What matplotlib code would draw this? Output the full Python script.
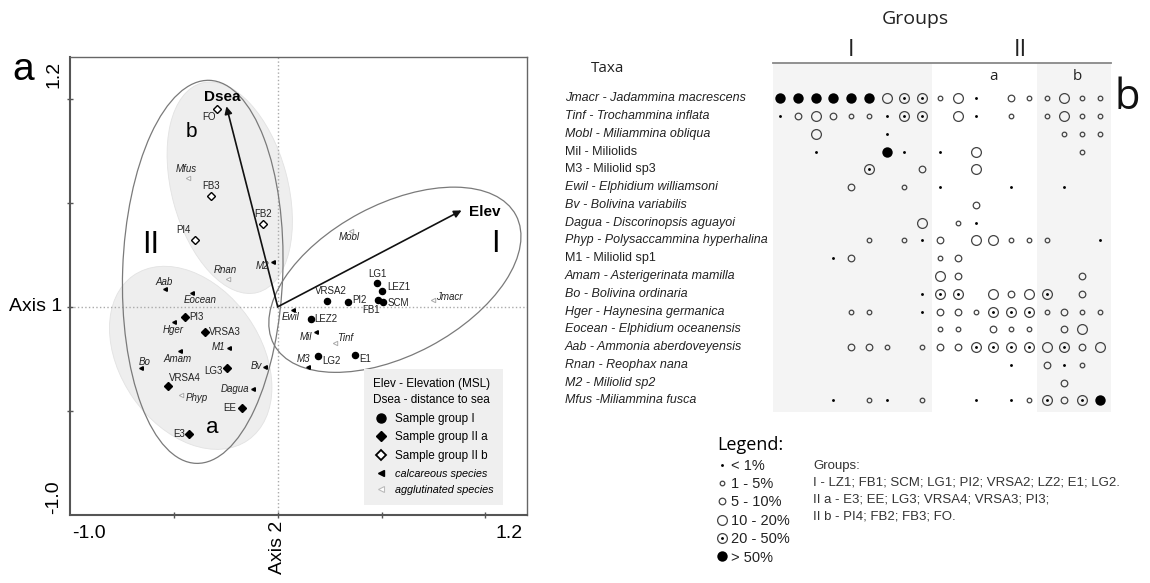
import numpy as np
import matplotlib.pyplot as plt
import matplotlib.transforms as mtransforms
from matplotlib.patches import Ellipse
from matplotlib.lines import Line2D
from matplotlib.legend_handler import HandlerTuple

plt.rcParams['font.family'] = ['Liberation Sans', 'DejaVu Sans']

W, H = 1150, 583

# ---------------- panel a: ordination scores ----------------
sample_names = ['LG1', 'LEZ1', 'VRSA2', 'PI2', 'FB1', 'SCM', 'LEZ2', 'LG2', 'E1',
                'PI3', 'VRSA3', 'LG3', 'VRSA4', 'EE', 'E3',
                'FO', 'FB3', 'FB2', 'PI4']
sample_x = [0.476, 0.503, 0.235, 0.339, 0.483, 0.507, 0.158, 0.194, 0.371,
            -0.448, -0.352, -0.242, -0.529, -0.170, -0.427,
            -0.291, -0.321, -0.071, -0.400]
sample_y = [0.114, 0.078, 0.030, 0.021, 0.034, 0.025, -0.059, -0.234, -0.231,
            -0.050, -0.122, -0.295, -0.380, -0.487, -0.612,
            0.952, 0.530, 0.399, 0.319]
sample_group = ['I'] * 9 + ['IIa'] * 6 + ['IIb'] * 4

species_names = ['Mfus', 'Rnan', 'M2', 'Aab', 'Eocean', 'Hger', 'M1', 'Amam', 'Bo',
                 'Bv', 'Phyp', 'Dagua', 'Mobl', 'Jmacr', 'Ewil', 'Mil', 'Tinf', 'M3']
species_x = [-0.432, -0.240, -0.023, -0.545, -0.411, -0.501, -0.235, -0.472, -0.657,
             -0.063, -0.464, -0.119, 0.355, 0.748, 0.074, 0.183, 0.275, 0.146]
species_y = [0.619, 0.133, 0.213, 0.085, 0.066, -0.072, -0.199, -0.213, -0.293,
             -0.290, -0.423, -0.396, 0.362, 0.034, -0.014, -0.119, -0.172, -0.287]
species_type = ['aggl', 'aggl', 'calc', 'calc', 'calc', 'calc', 'calc', 'calc', 'calc',
                'calc', 'aggl', 'calc', 'aggl', 'aggl', 'calc', 'calc', 'aggl', 'calc']

env_names = ['Dsea', 'Elev']
env_x = [-0.247, 0.885]
env_y = [0.963, 0.463]

# ---------------- panel b: abundance classes ----------------
taxa_labels = ['Jmacr - Jadammina macrescens', 'Tinf - Trochammina inflata',
               'Mobl - Miliammina obliqua', 'Mil - Miliolids', 'M3 - Miliolid sp3',
               'Ewil - Elphidium williamsoni', 'Bv - Bolivina variabilis',
               'Dagua - Discorinopsis aguayoi', 'Phyp - Polysaccammina hyperhalina',
               'M1 - Miliolid sp1', 'Amam - Asterigerinata mamilla',
               'Bo - Bolivina ordinaria', 'Hger - Haynesina germanica',
               'Eocean - Elphidium oceanensis', 'Aab - Ammonia aberdoveyensis',
               'Rnan - Reophax nana', 'M2 - Miliolid sp2', 'Mfus -Miliammina fusca']
taxa_italic = [True, True, True, False, False, True, True, True, True,
               False, True, True, True, True, True, True, True, True]

# 0 absent, 1 <1%, 2 1-5%, 3 5-10%, 4 10-20%, 5 20-50%, 6 >50%
abund_class = [
    [6, 6, 6, 6, 6, 6, 4, 5, 5, 2, 4, 1, 0, 3, 2, 2, 4, 2, 2],
    [1, 3, 4, 3, 2, 2, 1, 5, 5, 0, 4, 1, 0, 2, 0, 2, 4, 2, 2],
    [0, 0, 4, 0, 0, 0, 1, 0, 0, 0, 0, 0, 0, 0, 0, 0, 2, 2, 2],
    [0, 0, 1, 0, 0, 0, 6, 1, 0, 1, 0, 4, 0, 0, 0, 0, 0, 2, 0],
    [0, 0, 0, 0, 0, 5, 0, 0, 3, 0, 0, 4, 0, 0, 0, 0, 0, 0, 0],
    [0, 0, 0, 0, 3, 0, 0, 2, 0, 1, 0, 0, 0, 1, 0, 0, 1, 0, 0],
    [0, 0, 0, 0, 0, 0, 0, 0, 0, 0, 0, 3, 0, 0, 0, 0, 0, 0, 0],
    [0, 0, 0, 0, 0, 0, 0, 0, 4, 0, 2, 1, 0, 0, 0, 0, 0, 0, 0],
    [0, 0, 0, 0, 0, 2, 0, 2, 1, 3, 0, 4, 4, 2, 2, 2, 0, 0, 1],
    [0, 0, 0, 1, 3, 0, 0, 0, 0, 2, 3, 0, 0, 0, 0, 0, 0, 0, 0],
    [0, 0, 0, 0, 0, 0, 0, 0, 0, 4, 3, 0, 0, 0, 0, 0, 0, 3, 0],
    [0, 0, 0, 0, 0, 0, 0, 0, 1, 5, 5, 0, 4, 3, 4, 5, 0, 3, 0],
    [0, 0, 0, 0, 2, 2, 0, 0, 1, 3, 3, 2, 5, 5, 5, 2, 3, 2, 2],
    [0, 0, 0, 0, 0, 0, 0, 0, 0, 2, 2, 0, 3, 2, 2, 0, 3, 4, 0],
    [0, 0, 0, 0, 3, 3, 2, 0, 2, 3, 3, 5, 5, 5, 5, 4, 5, 3, 4],
    [0, 0, 0, 0, 0, 0, 0, 0, 0, 0, 0, 0, 0, 1, 0, 3, 1, 2, 0],
    [0, 0, 0, 0, 0, 0, 0, 0, 0, 0, 0, 0, 0, 0, 0, 0, 3, 0, 0],
    [0, 0, 0, 1, 0, 2, 1, 0, 2, 0, 0, 1, 0, 1, 2, 5, 3, 5, 6],
]
n_I, n_IIa, n_IIb = 9, 6, 4
class_labels = ['< 1%', '1 - 5%', '5 - 10%', '10 - 20%', '20 - 50%', '> 50%']
group_lines = ['Groups:',
               'I - LZ1; FB1; SCM; LG1; PI2; VRSA2; LZ2; E1; LG2.',
               'II a - E3; EE; LG3; VRSA4; VRSA3; PI3;',
               'II b - PI4; FB2; FB3; FO.']

# label placement for panel a (dx px, dy px downward, ha)
label_offsets = {
    'LG1': (1, -9, 'center'), 'LEZ1': (5, -4, 'left'), 'VRSA2': (4, -10, 'center'),
    'PI2': (4, -2, 'left'), 'FB1': (-7, 10, 'center'), 'SCM': (5, 1, 'left'),
    'LEZ2': (4, 0, 'left'), 'LG2': (4, 5, 'left'), 'E1': (4, 4, 'left'),
    'PI3': (5, 0, 'left'), 'VRSA3': (4, 0, 'left'), 'LG3': (-5, 3, 'right'),
    'VRSA4': (1, -8, 'left'), 'EE': (-6, 0, 'right'), 'E3': (-4, 0, 'right'),
    'FO': (-2, 8, 'right'), 'FB3': (0, -10, 'center'), 'FB2': (0, -10, 'center'),
    'PI4': (-11, -10, 'center'),
    'Mfus': (-2, -9, 'center'), 'Rnan': (-3, -9, 'center'), 'M2': (-4, 4, 'right'),
    'Aab': (0, -7, 'center'), 'Eocean': (8, 7, 'center'), 'Hger': (0, 8, 'center'),
    'M1': (-4, -1, 'right'), 'Amam': (-2, 8, 'center'), 'Bo': (3, -6, 'center'),
    'Bv': (-3, -1, 'right'), 'Phyp': (4, 3, 'left'), 'Dagua': (-4, 0, 'right'),
    'Mobl': (-2, 6, 'center'), 'Jmacr': (3, -3, 'left'), 'Ewil': (-3, 7, 'center'),
    'Mil': (-4, 5, 'right'), 'Tinf': (2, -5, 'left'), 'M3': (-5, -8, 'center'),
}
NARROW = ['Liberation Sans Narrow', 'Liberation Sans', 'DejaVu Sans']
PX = 0.72  # points per pixel at dpi 100

fig = plt.figure(figsize=(W / 100, H / 100), dpi=100)

# ================= panel a =================
ax = fig.add_axes([70 / W, 1 - 515 / H, 457 / W, 458 / H])
ax.set_xlim(-1.0, 1.2)
ax.set_ylim(-1.0, 1.2)

# group envelopes
ax.add_patch(Ellipse((-0.231, 0.572), 1.041, 0.559, angle=105, fc='#eeeeee',
                     ec='#e2e2e2', lw=0.6, zorder=1))
ax.add_patch(Ellipse((-0.419, -0.245), 0.964, 0.675, angle=125, fc='#eeeeee',
                     ec='#e2e2e2', lw=0.6, zorder=1))
ax.add_patch(Ellipse((-0.361, 0.168), 1.841, 0.771, angle=88, fc='none',
                     ec='#7a7a7a', lw=0.9, zorder=2))
ax.add_patch(Ellipse((0.564, 0.130), 1.32, 0.723, angle=28, fc='none',
                     ec='#7a7a7a', lw=0.9, zorder=2))

ax.axhline(0, color='#aaaaaa', ls=':', lw=1, zorder=1.5)
ax.axvline(0, color='#aaaaaa', ls=':', lw=1, zorder=1.5)

# environmental arrows
for name, ex, ey in zip(env_names, env_x, env_y):
    ax.annotate('', xy=(ex, ey), xytext=(0, 0),
                arrowprops=dict(arrowstyle='-|>', color='#111111', lw=1.2,
                                mutation_scale=11, shrinkA=0, shrinkB=0), zorder=3)
ax.annotate('Dsea', (env_x[0], env_y[0]), xytext=(-4 * PX, 9 * PX),
            textcoords='offset points', ha='center', va='center',
            fontsize=11, fontweight='bold')
ax.annotate('Elev', (env_x[1], env_y[1]), xytext=(7 * PX, -2 * PX),
            textcoords='offset points', ha='left', va='center',
            fontsize=11, fontweight='bold')

# samples
sx = np.array(sample_x)
sy = np.array(sample_y)
grp = np.array(sample_group)
m = grp == 'I'
ax.plot(sx[m], sy[m], 'o', ms=4.4, mfc='k', mec='k', ls='none', zorder=4)
m = grp == 'IIa'
ax.plot(sx[m], sy[m], 'D', ms=3.6, mfc='k', mec='k', ls='none', zorder=4)
m = grp == 'IIb'
ax.plot(sx[m], sy[m], 'D', ms=3.6, mfc='white', mec='k', mew=1.0, ls='none', zorder=4)
for name, x, y in zip(sample_names, sample_x, sample_y):
    dx, dy, ha = label_offsets[name]
    ax.annotate(name, (x, y), xytext=(dx * PX, -dy * PX), textcoords='offset points',
                ha=ha, va='center', fontsize=7, family=NARROW, color='#222222')

# species
spx = np.array(species_x)
spy = np.array(species_y)
typ = np.array(species_type)
m = typ == 'calc'
ax.plot(spx[m], spy[m], '<', ms=2.6, mfc='k', mec='k', ls='none', zorder=4)
m = typ == 'aggl'
ax.plot(spx[m], spy[m], '<', ms=3.2, mfc='white', mec='#aaaaaa', mew=0.7, ls='none', zorder=4)
for name, x, y in zip(species_names, species_x, species_y):
    dx, dy, ha = label_offsets[name]
    ax.annotate(name, (x, y), xytext=(dx * PX, -dy * PX), textcoords='offset points',
                ha=ha, va='center', fontsize=7, style='italic', family=NARROW,
                color='#222222')

# group letters
ax.text(-0.610, 0.298, 'II', fontsize=22, ha='center', va='center')
ax.text(1.046, 0.303, 'I', fontsize=22, ha='center', va='center')
ax.text(-0.416, 0.843, 'b', fontsize=15, ha='center', va='center')
ax.text(-0.313, -0.582, 'a', fontsize=16, ha='center', va='center')

# frame and ticks
for side in ['left', 'bottom']:
    ax.spines[side].set_color('#555555')
    ax.spines[side].set_linewidth(1.5)
for side in ['top', 'right']:
    ax.spines[side].set_color('#666666')
    ax.spines[side].set_linewidth(1.0)
ax.set_xticks([-0.5, 0, 0.5, 1.0])
ax.set_yticks([-0.5, 0, 0.5, 1.0])
ax.set_xticklabels([])
ax.set_yticklabels([])
ax.tick_params(direction='inout', length=5, width=1, color='#555555')

ax.text(-0.018, 0, 'Axis 1', transform=mtransforms.blended_transform_factory(ax.transAxes, ax.transData),
        ha='right', va='center', fontsize=14)
ax.text(0, -0.012, 'Axis 2', transform=mtransforms.blended_transform_factory(ax.transData, ax.transAxes),
        ha='center', va='top', fontsize=14, rotation=90)
ax.text(0.004, -0.040, '-1.0', transform=ax.transAxes, ha='left', va='center', fontsize=14)
ax.text(0.991, -0.040, '1.2', transform=ax.transAxes, ha='right', va='center', fontsize=14)
ax.text(-0.035, 0.963, '1.2', transform=ax.transAxes, ha='center', va='center',
        fontsize=14, rotation=90)
ax.text(-0.035, 0.039, '-1.0', transform=ax.transAxes, ha='center', va='center',
        fontsize=14, rotation=90)
fig.text(23 / W, 1 - 70 / H, 'a', fontsize=28, ha='center', va='center')

# legend of panel a
handles_a = [Line2D([], [], ls='none', marker='o', ms=6.5, mfc='k', mec='k'),
             Line2D([], [], ls='none', marker='D', ms=5.2, mfc='k', mec='k'),
             Line2D([], [], ls='none', marker='D', ms=5.2, mfc='white', mec='k', mew=1.3),
             Line2D([], [], ls='none', marker='<', ms=5, mfc='k', mec='k'),
             Line2D([], [], ls='none', marker='<', ms=5, mfc='white', mec='#bbbbbb', mew=0.8)]
labels_a = ['Sample group I', 'Sample group II a', 'Sample group II b',
            'calcareous species', 'agglutinated species']
leg = ax.legend(handles_a, labels_a, title='Elev - Elevation (MSL)\nDsea - distance to sea',
                title_fontsize=8.5, fontsize=8.5, alignment='left',
                loc='lower right', bbox_to_anchor=(0.947, 0.022), borderaxespad=0,
                borderpad=0.8, labelspacing=0.55, handlelength=1.2, handletextpad=0.6,
                frameon=True, fancybox=False, framealpha=1)
leg.get_frame().set_facecolor('#efefef')
leg.get_frame().set_edgecolor('none')
leg.get_title().set_linespacing(1.5)
for t in leg.get_texts()[3:]:
    t.set_fontstyle('italic')
    t.set_fontsize(7.8)
leg.set_zorder(6)

# ================= panel b =================
col_px0, col_dx = 780, 17.78
row_py0, row_dy = 98.3, 17.77
left_px, right_px, top_px, bot_px = 773, 1111, 63, 412
axb = fig.add_axes([left_px / W, 1 - bot_px / H, (right_px - left_px) / W, (bot_px - top_px) / H])
axb.set_xlim((left_px - col_px0) / col_dx, (right_px - col_px0) / col_dx)
axb.set_ylim((bot_px - row_py0) / row_dy, (top_px - row_py0) / row_dy)
axb.axis('off')
x0, x1 = axb.get_xlim()
axb.axvspan(x0, n_I - 0.45, color='#f4f4f4', lw=0, zorder=0)
axb.axvspan(n_I + n_IIa - 0.55, x1, color='#f4f4f4', lw=0, zorder=0)
axb.axhline(axb.get_ylim()[1], color='#888888', lw=1.3, clip_on=False)

EDGE = '#444444'
mat = np.array(abund_class)
style = {1: dict(ms=2.6 * PX * 1.1, mfc='k', mec='k', mew=0),
         2: dict(ms=4.6 * PX, mfc='none', mec=EDGE, mew=0.9),
         3: dict(ms=6.6 * PX, mfc='none', mec=EDGE, mew=0.9),
         4: dict(ms=9.8 * PX, mfc='none', mec=EDGE, mew=0.9),
         5: dict(ms=9.8 * PX, mfc='none', mec=EDGE, mew=0.9),
         6: dict(ms=10.4 * PX, mfc='k', mec='k', mew=0)}
for code in range(1, 7):
    rows, cols = np.nonzero(mat == code)
    axb.plot(cols, rows, 'o', ls='none', zorder=3, **style[code])
    if code == 5:
        axb.plot(cols, rows, 'o', ls='none', zorder=4, **style[1])

tr = mtransforms.blended_transform_factory(fig.transFigure, axb.transData)
for i, (lab, it) in enumerate(zip(taxa_labels, taxa_italic)):
    axb.text(565 / W, i, lab, transform=tr, ha='left', va='center', fontsize=9,
             style='italic' if it else 'normal', color='#222222')
axb.text(608 / W, (68 - row_py0) / row_dy, 'Taxa', transform=tr, ha='center', va='center',
         fontsize=11, family=['Open Sans', 'DejaVu Sans'], color='#222222')

HEAD = ['Open Sans', 'DejaVu Sans']
axb.text((n_I + n_IIa) / 2 + 0.1, -4.44, 'Groups', ha='center', va='center', fontsize=14,
         family=HEAD, color='#222222', clip_on=False)
axb.text((n_I - 1) / 2, -2.7, 'I', ha='center', va='center', fontsize=17, family=HEAD,
         color='#222222', clip_on=False)
axb.text(13.5, -2.7, 'II', ha='center', va='center', fontsize=17, family=HEAD,
         color='#222222', clip_on=False)
axb.text(12, -1.2, 'a', ha='center', va='center', fontsize=11, family=HEAD,
         color='#222222', clip_on=False)
axb.text(16.7, -1.2, 'b', ha='center', va='center', fontsize=11, family=HEAD,
         color='#222222', clip_on=False)
fig.text(1127 / W, 1 - 98 / H, 'b', fontsize=30, family=HEAD, ha='center', va='center',
         color='#111111')

# legend of panel b
def bh(code):
    return Line2D([], [], ls='none', marker='o', **style[code])

handles_b = [bh(1), bh(2), bh(3), bh(4), (bh(5), bh(1)), bh(6)]
legb = fig.legend(handles_b, class_labels, title='Legend:', title_fontsize=13,
                  fontsize=10.5, alignment='left', loc='upper left',
                  bbox_to_anchor=(710 / W, 1 - 429 / H), frameon=False, borderpad=0,
                  labelspacing=0.3, handlelength=0.7, handletextpad=0.25,
                  handler_map={tuple: HandlerTuple(ndivide=1, pad=0)})
legb.get_title().set_family(HEAD)
for t in legb.get_texts():
    t.set_color('#222222')

fig.text(813 / W, 1 - 491 / H, '\n'.join(group_lines), ha='left', va='center',
         fontsize=9.5, linespacing=1.55, color='#333333')

fig.savefig('out.png', dpi=100)
